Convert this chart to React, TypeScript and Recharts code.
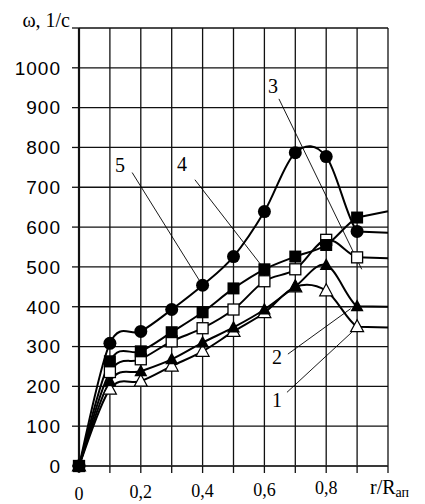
import React from 'react';
import { LineChart, Line, XAxis, YAxis, CartesianGrid, ReferenceLine, ReferenceDot } from 'recharts';

// ---- data ----
const xValues = [0, 0.1, 0.2, 0.3, 0.4, 0.5, 0.6, 0.7, 0.8, 0.9, 1.0];
const series1 = [0, 193, 213, 251, 288, 338, 385, 450, 440, 350, 348]; // open triangles
const series2 = [0, 213, 238, 268, 310, 348, 393, 451, 505, 401, 400]; // filled triangles
const series3 = [0, 236, 268, 313, 346, 393, 464, 494, 568, 524, 522]; // open squares
const series4 = [0, 263, 288, 336, 386, 446, 494, 526, 555, 624, 640]; // filled squares
const series5 = [0, 308, 338, 393, 454, 526, 639, 787, 777, 589, 586]; // filled circles

const xTicks = [0, 0.1, 0.2, 0.3, 0.4, 0.5, 0.6, 0.7, 0.8, 0.9, 1.0];
const xTickLabels: Record<string, string> = { '0': '0', '0.2': '0,2', '0.4': '0,4', '0.6': '0,6', '0.8': '0,8' };
const yTicks = [0, 100, 200, 300, 400, 500, 600, 700, 800, 900, 1000, 1100];
const yAxisTitle = 'ω, 1/с';
const xAxisTitle = 'r/R';
const xAxisSub = 'ап';

// curve labels and their leader lines, in data units
const curveLabels = ['5', '4', '3', '2', '1'];
const labelPos = [
  [0.133, 739], [0.333, 742], [0.628, 936], [0.641, 256], [0.641, 148],
];
const leaderFrom = [
  [0.172, 737], [0.375, 719], [0.647, 922], [0.676, 281], [0.673, 185],
];
const leaderTo = [
  [0.4, 453], [0.6, 494], [0.915, 494], [0.879, 395], [0.883, 336],
];

const data = xValues.map((x, i) => ({
  x, s1: series1[i], s2: series2[i], s3: series3[i], s4: series4[i], s5: series5[i],
}));

// Excel-like smoothed curve (Catmull-Rom), last segment straight
function excelCurve(context: any) {
  let xs: number[] = [];
  let ys: number[] = [];
  return {
    areaStart() {},
    areaEnd() {},
    lineStart() { xs = []; ys = []; },
    point(x: number, y: number) { xs.push(+x); ys.push(+y); },
    lineEnd() {
      const n = xs.length;
      if (!n) return;
      context.moveTo(xs[0], ys[0]);
      if (n === 1) return;
      if (n === 2) { context.lineTo(xs[1], ys[1]); return; }
      for (let i = 0; i < n - 1; i++) {
        if (i === n - 2) { context.lineTo(xs[i + 1], ys[i + 1]); continue; }
        const i0 = Math.max(i - 1, 0);
        const i3 = Math.min(i + 2, n - 1);
        const c1x = xs[i] + (xs[i + 1] - xs[i0]) / 6;
        const c1y = ys[i] + (ys[i + 1] - ys[i0]) / 6;
        const c2x = xs[i + 1] - (xs[i3] - xs[i]) / 6;
        const c2y = ys[i + 1] - (ys[i3] - ys[i]) / 6;
        context.bezierCurveTo(c1x, c1y, c2x, c2y, xs[i + 1], ys[i + 1]);
      }
    },
  };
}

const makeDot = (kind: string) => (props: any) => {
  const { cx, cy, index } = props;
  const key = `${kind}-${index}`;
  if (cx == null || cy == null || index === xValues.length - 1) return <g key={key} />;
  if (kind === 'circle') return <circle key={key} cx={cx} cy={cy} r={6.5} fill="#000" />;
  if (kind === 'fsquare') return <rect key={key} x={cx - 6} y={cy - 6} width={12} height={12} fill="#000" />;
  if (kind === 'osquare')
    return <rect key={key} x={cx - 5.5} y={cy - 5.5} width={11} height={11} fill="#fff" stroke="#000" strokeWidth={1.3} />;
  const pts = `${cx - 6.5},${cy + 5} ${cx + 6.5},${cy + 5} ${cx},${cy - 7}`;
  if (kind === 'ftri') return <polygon key={key} points={pts} fill="#000" />;
  return <polygon key={key} points={pts} fill="#fff" stroke="#000" strokeWidth={1.2} />;
};

const XTick = (props: any) => {
  const { x, y, payload } = props;
  const v = payload.value;
  if (Math.abs(v - 1) < 1e-9) {
    return (
      <text x={x - 18} y={y + 21} fontFamily="Liberation Serif" fontSize={20} fill="#000" textAnchor="start">
        {xAxisTitle}
        <tspan fontSize={14} dy={3}>{xAxisSub}</tspan>
      </text>
    );
  }
  const key = String(Math.round(v * 10) / 10);
  const label = xTickLabels[key];
  if (!label) return <g />;
  const dyMap: Record<string, number> = { '0': 27, '0.2': 25, '0.4': 24, '0.6': 23, '0.8': 21 };
  return (
    <text x={x} y={y + (dyMap[key] ?? 25)} fontFamily="Liberation Serif" fontSize={18} fill="#000" textAnchor="middle">
      {label}
    </text>
  );
};

const YTick = (props: any) => {
  const { x, y, payload } = props;
  if (payload.value === 1100) {
    return (
      <text x={x + 9} y={y - 1} fontFamily="Liberation Serif" fontSize={20} fill="#000" textAnchor="end">
        {yAxisTitle}
      </text>
    );
  }
  return (
    <text x={x} y={y} dy="0.36em" fontFamily="Liberation Sans" fontSize={19} letterSpacing={1} fill="#000" textAnchor="end">
      {payload.value}
    </text>
  );
};

export default function App() {
  return (
    <div style={{ position: 'absolute', left: 0, top: 0, width: 425, height: 504, background: '#fff' }}>
      <LineChart width={425} height={504} data={data} margin={{ top: 28, right: 37, bottom: 0, left: 0 }}>
        <CartesianGrid stroke="#111" strokeWidth={1.3} />
        <XAxis
          dataKey="x"
          type="number"
          domain={[0, 1]}
          ticks={xTicks}
          interval={0}
          tickSize={7}
          tickMargin={0}
          tickLine={{ stroke: '#111', strokeWidth: 1.3 }}
          height={38}
          axisLine={{ stroke: '#333', strokeWidth: 1.3 }}
          tick={<XTick />}
        />
        <YAxis
          type="number"
          domain={[0, 1100]}
          ticks={yTicks}
          interval={0}
          width={79}
          tickSize={7}
          tickMargin={11}
          tickLine={{ stroke: '#111', strokeWidth: 1.3 }}
          axisLine={{ stroke: '#111', strokeWidth: 2.2 }}
          tick={<YTick />}
        />
        {curveLabels.map((t, i) => (
          <ReferenceLine
            key={`ll-${t}`}
            segment={[{ x: leaderFrom[i][0], y: leaderFrom[i][1] }, { x: leaderTo[i][0], y: leaderTo[i][1] }]}
            stroke="#000"
            strokeWidth={0.9}
            ifOverflow="visible"
          />
        ))}
        <Line dataKey="s1" type={excelCurve as any} stroke="#000" strokeWidth={2} dot={makeDot('otri')} activeDot={false} isAnimationActive={false} />
        <Line dataKey="s2" type={excelCurve as any} stroke="#000" strokeWidth={2} dot={makeDot('ftri')} activeDot={false} isAnimationActive={false} />
        <Line dataKey="s5" type={excelCurve as any} stroke="#000" strokeWidth={2} dot={makeDot('circle')} activeDot={false} isAnimationActive={false} />
        <Line dataKey="s3" type={excelCurve as any} stroke="#000" strokeWidth={2} dot={makeDot('osquare')} activeDot={false} isAnimationActive={false} />
        <Line dataKey="s4" type={excelCurve as any} stroke="#000" strokeWidth={2} dot={makeDot('fsquare')} activeDot={false} isAnimationActive={false} />
        {curveLabels.map((t, i) => (
          <ReferenceDot
            key={`lb-${t}`}
            x={labelPos[i][0]}
            y={labelPos[i][1]}
            r={0}
            ifOverflow="visible"
            shape={(p: any) => (
              <text x={p.cx} y={p.cy} fontFamily="Liberation Serif" fontSize={20} fill="#000" textAnchor="middle">
                {t}
              </text>
            )}
          />
        ))}
      </LineChart>
    </div>
  );
}
